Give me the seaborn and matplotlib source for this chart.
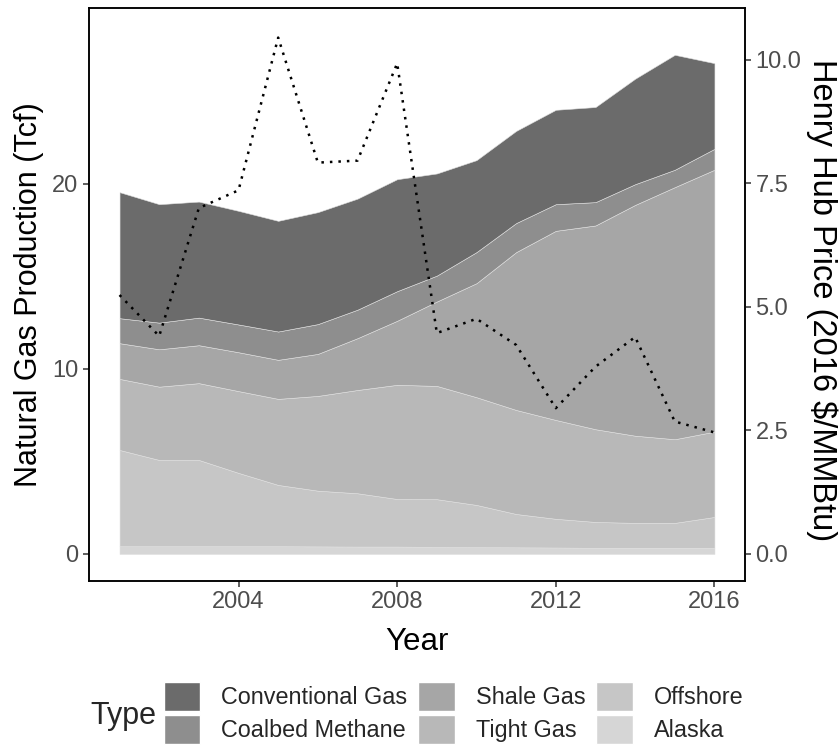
import numpy as np
import pandas as pd
import matplotlib
matplotlib.use("Agg")
import matplotlib.pyplot as plt
from matplotlib.patches import Patch
import seaborn as sns

years = list(range(2001, 2017))
conventional = [6.81, 6.40, 6.27, 6.14, 5.98, 6.05, 6.00, 6.05, 5.52, 4.97, 4.98, 5.10, 5.14, 5.70, 6.21, 4.63]
coalbed = [1.35, 1.44, 1.49, 1.50, 1.53, 1.61, 1.54, 1.60, 1.40, 1.68, 1.57, 1.44, 1.26, 1.12, 0.94, 1.13]
shale = [1.93, 2.02, 2.05, 2.10, 2.11, 2.27, 2.80, 3.46, 4.56, 6.16, 8.53, 10.22, 11.01, 12.47, 13.62, 14.15]
tight = [3.84, 3.96, 4.15, 4.42, 4.65, 5.12, 5.58, 6.17, 6.12, 5.82, 5.62, 5.34, 5.01, 4.71, 4.52, 4.61]
offshore = [5.20, 4.66, 4.66, 3.96, 3.31, 3.01, 2.88, 2.57, 2.58, 2.28, 1.80, 1.55, 1.40, 1.35, 1.35, 1.67]
alaska = [0.42, 0.42, 0.42, 0.42, 0.42, 0.41, 0.40, 0.40, 0.38, 0.37, 0.36, 0.35, 0.33, 0.33, 0.33, 0.33]
price = [5.24, 4.41, 7.00, 7.36, 10.45, 7.92, 7.96, 9.93, 4.47, 4.76, 4.23, 2.95, 3.79, 4.39, 2.68, 2.46]

types = ["Conventional Gas", "Coalbed Methane", "Shale Gas", "Tight Gas", "Offshore", "Alaska"]
series = [conventional, coalbed, shale, tight, offshore, alaska]
colors = ["#6b6b6b", "#8e8e8e", "#a6a6a6", "#b8b8b8", "#c6c6c6", "#d6d6d6"]
x_ticks = [2004, 2008, 2012, 2016]
left_ticks = [0, 10, 20]
right_ticks = [0.0, 2.5, 5.0, 7.5, 10.0]
sec_factor = 2.67

sns.set_theme(style="white")
plt.rcParams["font.family"] = ["Liberation Sans", "DejaVu Sans"]

fig = plt.figure(figsize=(8.4, 7.49), dpi=100)
ax = fig.add_axes([89/840, 1-581/749, (745-89)/840, (581-8)/749])

# stacked areas, bottom layer first
ax.stackplot(years, *series[::-1], colors=colors[::-1], edgecolor="#e0e0e0", linewidth=0.4)

ax.set_xlim(2001 - 0.77, 2016 + 0.77)
ax.set_ylim(-1.46, 29.5)
ax.set_xticks(x_ticks)
ax.set_yticks(left_ticks)

ax2 = ax.twinx()
df_price = pd.DataFrame({"Year": years, "Price": price})
sns.lineplot(data=df_price, x="Year", y="Price", ax=ax2, color="black",
             linestyle=(0, (1, 2.4)), linewidth=1.8)
ax2.set_ylim(-1.46/sec_factor, 29.5/sec_factor)
ax2.set_yticks(right_ticks)
ax2.set_yticklabels([f"{v:.1f}" for v in right_ticks])
ax2.set_ylabel("")

tick_color = "#4d4d4d"
for a in (ax, ax2):
    for s in a.spines.values():
        s.set_color("black")
        s.set_linewidth(1.1)
    a.tick_params(axis="both", which="major", length=4.5, width=1.1, color="#333333",
                  labelsize=17, labelcolor=tick_color, pad=3)
ax.tick_params(left=True, bottom=True)
ax2.tick_params(right=True)

ax.set_xlabel("Year", fontsize=22.5, color="black", labelpad=10)
ax.set_ylabel("Natural Gas Production (Tcf)", fontsize=22, color="black", labelpad=6)
fig.text(822/840, 1-300/749, "Henry Hub Price (2016 \\$/MMBtu)", fontsize=23.5,
         color="black", rotation=270, va="center", ha="center")
ax.grid(False)
ax2.grid(False)

handles = [Patch(facecolor=c, edgecolor="white", linewidth=1.0) for c in colors]
leg = fig.legend(handles, types, ncol=3, loc="center left",
                 bbox_to_anchor=(164/840, 1-713/749), frameon=False,
                 fontsize=16.8, handlelength=1.55, handleheight=1.55,
                 labelspacing=0.15, handletextpad=0.9, columnspacing=0.48,
                 borderaxespad=0, borderpad=0)
fig.text(90/840, 1-716/749, "Type", fontsize=22, va="center", ha="left")

fig.savefig("out.png", dpi=100)
